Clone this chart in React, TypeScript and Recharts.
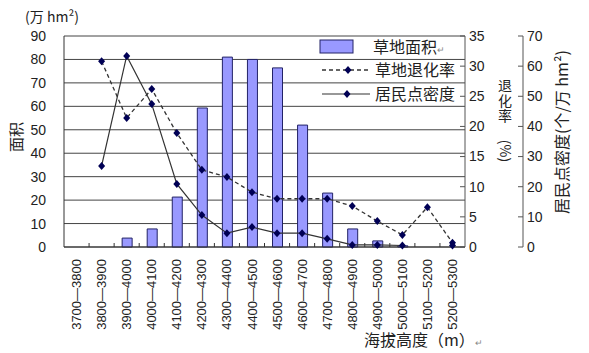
import { ComposedChart, Bar, Line, XAxis, YAxis, CartesianGrid, Legend } from 'recharts'

const altitudes = [
  '3700—3800', '3800—3900', '3900—4000', '4000—4100', '4100—4200', '4200—4300',
  '4300—4400', '4400—4500', '4500—4600', '4600—4700', '4700—4800', '4800—4900',
  '4900—5000', '5000—5100', '5100—5200', '5200—5300',
]
const grassArea = [0, 0, 3.8, 7.7, 21.3, 59.3, 81, 80, 76.4, 52, 23, 7.7, 2.6, 0.5, 0, 0]
const degradeRate = [null, 30.8, 21.4, 26.2, 18.9, 12.8, 11.6, 9.1, 8.0, 8.0, 8.0, 6.8, 4.3, 2.0, 6.6, 0.7]
const settleDensity = [null, 26.9, 63.4, 47.4, 20.9, 10.6, 4.6, 6.6, 4.6, 4.6, 2.7, 0.7, 0.7, 0.5, null, 0.5]
const areaTicks = [0, 10, 20, 30, 40, 50, 60, 70, 80, 90]
const rateTicks = [0, 5, 10, 15, 20, 25, 30, 35]
const densTicks = [0, 10, 20, 30, 40, 50, 60, 70]

const data = altitudes.map((name, i) => ({
  name,
  area: grassArea[i],
  rate: degradeRate[i],
  dens: settleDensity[i],
}))

const W = 589
const H = 353
const TOP = 36
const LEFT_W = 64
const RATE_W = 58
const DENS_W = 66
const X_H = 106
const PLOT_R = W - RATE_W - DENS_W
const PLOT_B = H - X_H

const CJK = '"Noto Sans CJK SC", "Noto Sans", sans-serif'
const NUM = '"Liberation Sans", Arial, sans-serif'
const TXT = '#222'

const Diamond = (props: any) => {
  const { cx, cy, index } = props
  if (cx == null || cy == null || isNaN(cy)) return <g key={`d-${index}`} />
  return (
    <polygon
      key={`d-${index}`}
      points={`${cx},${cy - 4} ${cx + 3.5},${cy} ${cx},${cy + 4} ${cx - 3.5},${cy}`}
      fill="#000055"
    />
  )
}

const XTick = (props: any) => {
  const { x, y, payload, index } = props
  const band = (PLOT_R - LEFT_W) / altitudes.length
  return (
    <g>
      {index > 0 && <line x1={x - band / 2} x2={x - band / 2} y1={y} y2={y - 4} stroke="#333" />}
      <text
        x={x}
        y={y + 12}
        transform={`rotate(-90 ${x} ${y + 12})`}
        textAnchor="end"
        dy="0.35em"
        fontSize={13}
        fontFamily={NUM}
        fill={TXT}
      >
        {payload.value}
      </text>
    </g>
  )
}

const RightTick = (props: any) => {
  const { x, y, payload } = props
  return (
    <g>
      <line x1={x - 5} x2={x} y1={y} y2={y} stroke="#555" />
      <text x={x + 4} y={y} dy="0.35em" fontSize={14} fontFamily={NUM} fill={TXT}>
        {payload.value}
      </text>
    </g>
  )
}

const AreaLabel = () => {
  const cy = TOP + 101
  return (
    <g fontFamily={CJK} fill={TXT}>
      <text x={52} y={17} textAnchor="middle" dy="0.35em" fontSize={14}>
        (万 hm²)
      </text>
      <text x={17} y={cy} transform={`rotate(-90 17 ${cy})`} textAnchor="middle" dy="0.35em" fontSize={15}>
        面积
      </text>
    </g>
  )
}

const RateLabel = () => {
  const cx = PLOT_R + 40
  const py = TOP + 115
  return (
    <g fontFamily={CJK} fill={TXT} fontSize={14}>
      <text textAnchor="middle">
        {['退', '化', '率'].map((c, i) => (
          <tspan key={c} x={cx} y={TOP + 55 + i * 15}>
            {c}
          </tspan>
        ))}
      </text>
      <text x={cx} y={py} transform={`rotate(90 ${cx} ${py})`} textAnchor="middle" dy="0.35em">
        (%)
      </text>
    </g>
  )
}

const DensLabel = () => {
  const cx = PLOT_R + RATE_W + 39
  const cy = TOP + 96
  return (
    <text
      x={cx}
      y={cy}
      transform={`rotate(-90 ${cx} ${cy})`}
      textAnchor="middle"
      dy="0.35em"
      fontSize={16}
      fontFamily={CJK}
      fill={TXT}
    >
      居民点密度(个/万 hm²)
    </text>
  )
}

const XTitle = () => (
  <text x={LEFT_W + 300} y={PLOT_B + 93} dy="0.35em" fontSize={16} fontFamily={CJK} fill={TXT}>
    海拔高度（m）<tspan fontSize={9} fill="#888">↵</tspan>
  </text>
)

const LegendBox = () => (
  <svg width={160} height={75} style={{ display: 'block' }}>
    <g fontFamily={CJK} fontSize={16} fill={TXT}>
      <rect x={4} y={6} width={33} height={13} fill="#9999ff" stroke="#222266" />
      <text x={57} y={13} dy="0.35em">
        草地面积<tspan fontSize={9} fill="#888">↵</tspan>
      </text>
      <line x1={6} x2={54} y1={36} y2={36} stroke="#333" strokeWidth={1.3} strokeDasharray="4 3" />
      <Diamond cx={32} cy={36} index={0} />
      <text x={59} y={36} dy="0.35em">草地退化率</text>
      <line x1={6} x2={54} y1={60} y2={60} stroke="#333" strokeWidth={1.2} />
      <Diamond cx={31} cy={60} index={1} />
      <text x={59} y={60} dy="0.35em">居民点密度</text>
    </g>
  </svg>
)

export default function App() {
  return (
    <div style={{ position: 'absolute', left: 0, top: 0, background: '#fff' }}>
      <ComposedChart width={W} height={H} data={data} margin={{ top: TOP, right: 0, bottom: 0, left: 0 }}>
        <CartesianGrid yAxisId="left" vertical={false} stroke="#444" />
        <XAxis
          dataKey="name"
          interval={0}
          height={X_H}
          tickLine={false}
          tickSize={0}
          tickMargin={0}
          axisLine={{ stroke: '#333' }}
          tick={<XTick />}
          label={() => <XTitle />}
        />
        <YAxis
          yAxisId="left"
          orientation="left"
          width={LEFT_W}
          domain={[0, 90]}
          ticks={areaTicks}
          tickLine={false}
          tickMargin={12}
          axisLine={{ stroke: '#333' }}
          tick={{ fontSize: 14, fontFamily: NUM, fill: TXT }}
          label={() => <AreaLabel />}
        />
        <YAxis
          yAxisId="right1"
          orientation="right"
          width={RATE_W}
          domain={[0, 35]}
          ticks={rateTicks}
          tickLine={false}
          tickSize={0}
          tickMargin={0}
          axisLine={{ stroke: '#555' }}
          tick={<RightTick />}
          label={() => <RateLabel />}
        />
        <YAxis
          yAxisId="right2"
          orientation="right"
          width={DENS_W}
          domain={[0, 70]}
          ticks={densTicks}
          tickLine={false}
          tickSize={0}
          tickMargin={0}
          axisLine={{ stroke: '#555' }}
          tick={<RightTick />}
          label={() => <DensLabel />}
        />
        <Legend
          layout="vertical"
          align="center"
          verticalAlign="middle"
          wrapperStyle={{ left: 316, top: 34, width: 160, height: 75 }}
          content={() => <LegendBox />}
        />
        <Bar
          yAxisId="left"
          dataKey="area"
          name="草地面积"
          barSize={10}
          fill="#9999ff"
          stroke="#222266"
          strokeWidth={1}
          isAnimationActive={false}
        />
        <Line
          yAxisId="right1"
          dataKey="rate"
          name="草地退化率"
          type="linear"
          stroke="#333"
          strokeWidth={1.3}
          strokeDasharray="4 3"
          dot={Diamond}
          activeDot={false}
          isAnimationActive={false}
        />
        <Line
          yAxisId="right2"
          dataKey="dens"
          name="居民点密度"
          type="linear"
          stroke="#333"
          strokeWidth={1.2}
          dot={Diamond}
          activeDot={false}
          isAnimationActive={false}
        />
      </ComposedChart>
    </div>
  )
}
